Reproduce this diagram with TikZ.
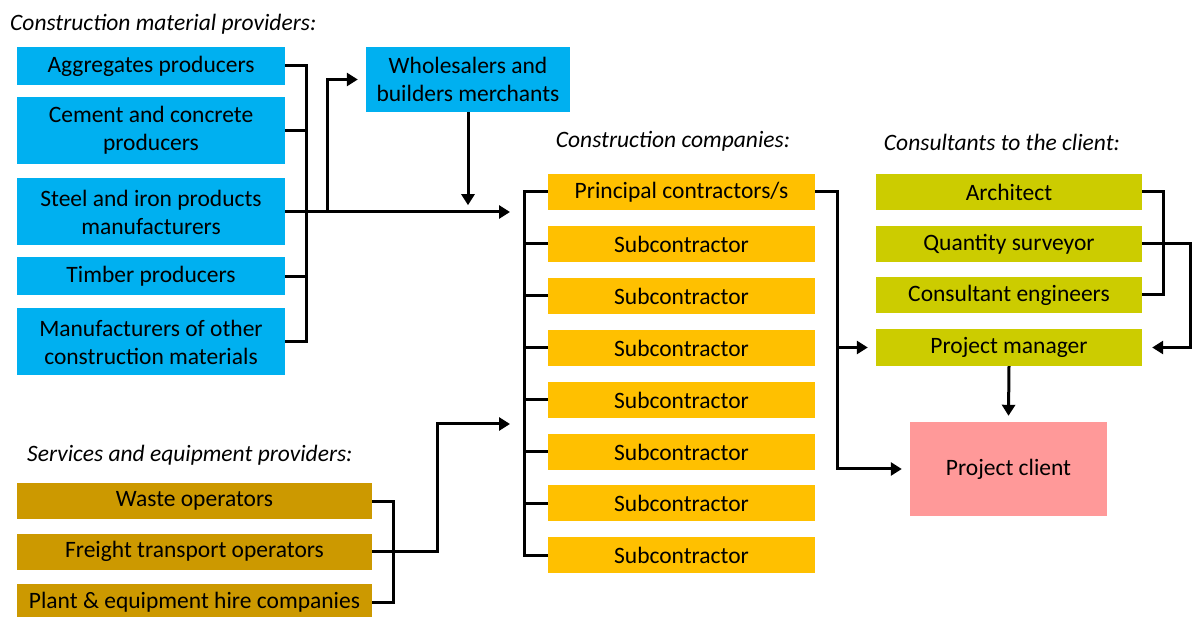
\documentclass[tikz,border=0pt]{standalone}
\usepackage{fontspec}
\setmainfont{Carlito}
\usetikzlibrary{arrows.meta}
\definecolor{matblue}{HTML}{00B0F0}
\definecolor{conorange}{HTML}{FFC000}
\definecolor{servgold}{HTML}{CC9900}
\definecolor{consgreen}{HTML}{CCCC00}
\definecolor{clientpink}{HTML}{FF9999}
\tikzset{
  box/.style={inner sep=0pt, align=center, font=\fontsize{23.5}{28}\selectfont},
  bluebox/.style={box, fill=matblue, minimum width=268, minimum height=38},
  orangebox/.style={box, fill=conorange, minimum width=267, minimum height=36},
  goldbox/.style={box, fill=servgold, minimum width=355, minimum height=36},
  greenbox/.style={box, fill=consgreen, minimum width=266, minimum height=36},
  clientbox/.style={box, fill=clientpink, minimum width=197, minimum height=94},
  heading/.style={anchor=west, inner sep=0pt, font=\fontsize{23.5}{28}\selectfont\itshape},
  wire/.style={draw=black, line width=3pt},
  arr/.style={wire, -{Triangle[length=11pt,width=13pt]}},
}
\begin{document}
\begin{tikzpicture}[x=1pt,y=-1pt]
\useasboundingbox[fill=white] (0,0) rectangle (1192,617);
% Construction material providers
\node[heading] (mattitle) at (10,24) {Construction material providers:};
\node[bluebox] (agg) at (151,66) {Aggregates producers};
\node[bluebox, minimum height=67] (cem) at (151,130.5) {Cement and concrete\\producers};
\node[bluebox, minimum height=67] (steel) at (151,212) {Steel and iron products\\manufacturers};
\node[bluebox] (timber) at (151,276.5) {Timber producers};
\node[bluebox, minimum height=67] (othmat) at (151,342) {Manufacturers of other\\construction materials};
\node[bluebox, minimum width=204, minimum height=65] (whole) at (468,79.5) {Wholesalers and\\builders merchants};
% Services and equipment providers
\node[heading] (servtitle) at (27,455) {Services and equipment providers:};
\node[goldbox] (waste) at (194.5,501) {Waste operators};
\node[goldbox] (freight) at (194.5,551.5) {Freight transport operators};
\node[goldbox] (plant) at (194.5,602) {Plant \& equipment hire companies};
% Construction companies
\node[heading, anchor=center] (contitle) at (673,141) {Construction companies:};
\node[orangebox] (prin) at (681.5,192) {Principal contractors/s};
\foreach \i/\y in {1/244,2/296,3/348,4/400,5/452,6/503,7/555}
  \node[orangebox] (sub\i) at (681.5,\y) {Subcontractor};
% Consultants to the client
\node[heading, anchor=center] (constitle) at (1002,142) {Consultants to the client:};
\node[greenbox] (arch) at (1009,192) {Architect};
\node[greenbox] (qs) at (1009,244) {Quantity surveyor};
\node[greenbox] (eng) at (1009,295) {Consultant engineers};
\node[greenbox, minimum height=37] (pm) at (1009,347.5) {Project manager};
\node[clientbox] (client) at (1008.5,469) {Project client};
% Drawing connectors
\draw[wire] (agg.east) -- ++(21,0) |- (othmat.east);
\foreach \n in {cem,timber}
  \draw[wire] (\n.east) -- ++(21,0);
\coordinate (conin) at (510,212);
\draw[arr] (steel.east) -- (conin);
\coordinate (wbranch) at (327,212);
\draw[arr] (wbranch) |- ([xshift=-8pt]whole.west);
\draw[arr] (whole.south) -- ++(0,93);
\draw[wire] (prin.west) -- ++(-23,0) |- (sub7.west);
\foreach \i in {1,...,6}
  \draw[wire] (sub\i.west) -- ++(-23,0);
\draw[wire] (waste.east) -- ++(21,0) |- (plant.east);
\coordinate (servin) at (510,424);
\draw[arr] (freight.east) -- ++(65,0) |- (servin);
\draw[arr] (prin.east) -- ++(22,0) |- ([xshift=-8pt]client.west);
\coordinate (pbranch) at (837,347.5);
\draw[arr] (pbranch) -- ([xshift=-8pt]pm.west);
\draw[wire] (arch.east) -- ++(21,0) |- (eng.east);
\draw[arr] (qs.east) -- (1190,244) |- ([xshift=10pt]pm.east);
\draw[arr] (pm.south) -- ([yshift=6pt]client.north);
\end{tikzpicture}
\end{document}
